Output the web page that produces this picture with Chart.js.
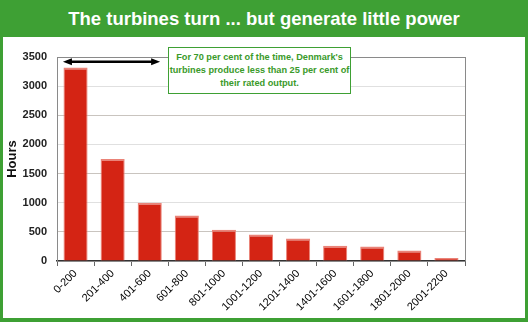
<!DOCTYPE html>
<html>
<head>
<meta charset="utf-8">
<script src="https://cdn.jsdelivr.net/npm/chart.js@4.4.1/dist/chart.umd.min.js"></script>
<style>
  html, body { margin: 0; padding: 0; }
  body { width: 528px; height: 322px; overflow: hidden; font-family: "Liberation Sans", Arial, sans-serif; }
  #frame { position: relative; width: 528px; height: 322px; background: #3ea034; }
  #heading {
    position: absolute; left: 0; top: 0; width: 528px; height: 37px;
    line-height: 37px; text-align: center; color: #fff;
    font-weight: bold; font-size: 18.5px;
  }
  #panel { position: absolute; left: 3px; top: 37px; width: 522px; height: 281px; background: #fff; }
  #note {
    position: absolute; left: 165px; top: 10px; width: 183px; height: 47px;
    border: 1px solid #3ea034; background: #fff; color: #3a9a2a;
    font-weight: bold; font-size: 9.2px; line-height: 12.8px; text-align: center;
    white-space: nowrap; box-sizing: border-box; padding-top: 3px;
  }
</style>
</head>
<body>
<div id="frame">
  <div id="heading">The turbines turn ... but generate little power</div>
  <div id="panel">
    <canvas id="hoursChart" width="522" height="281"></canvas>
    <div id="note">For 70 per cent of the time, Denmark's<br>turbines produce less than 25 per cent of<br>their rated output.</div>
  </div>
</div>
<script>
// output bands (kW) and hours spent in each band
const bands = ['0-200', '201-400', '401-600', '601-800', '801-1000', '1001-1200',
  '1201-1400', '1401-1600', '1601-1800', '1801-2000', '2001-2200'];
const hours = [3320, 1750, 1000, 780, 535, 455, 385, 260, 250, 180, 50];
const yTicks = [0, 500, 1000, 1500, 2000, 2500, 3000, 3500];

// arrow spanning the low-output bands (category index units)
const arrowFrom = -0.34;
const arrowTo = 2.28;
const arrowAt = 3420;

const font = '"Liberation Sans", Arial, sans-serif';

const extras = {
  id: 'extras',
  afterDraw(chart) {
    const { ctx, chartArea, scales } = chart;
    // right-hand frame line
    ctx.save();
    ctx.strokeStyle = '#8a8a8a';
    ctx.lineWidth = 1;
    ctx.beginPath();
    ctx.moveTo(Math.round(chartArea.right) + 0.5, chartArea.top);
    ctx.lineTo(Math.round(chartArea.right) + 0.5, chartArea.bottom);
    ctx.stroke();

    // double-headed arrow
    const x1 = scales.x.getPixelForValue(arrowFrom);
    const x2 = scales.x.getPixelForValue(arrowTo);
    const y = scales.y.getPixelForValue(arrowAt);
    ctx.strokeStyle = '#000';
    ctx.fillStyle = '#000';
    ctx.lineWidth = 2.5;
    ctx.beginPath();
    ctx.moveTo(x1 + 4, y);
    ctx.lineTo(x2 - 4, y);
    ctx.stroke();
    [[x1, 1], [x2, -1]].forEach(([x, d]) => {
      ctx.beginPath();
      ctx.moveTo(x, y);
      ctx.lineTo(x + d * 9, y - 3.5);
      ctx.lineTo(x + d * 9, y + 3.5);
      ctx.closePath();
      ctx.fill();
    });
    ctx.restore();
  }
};

new Chart(document.getElementById('hoursChart'), {
  type: 'bar',
  data: {
    labels: bands,
    datasets: [{
      data: hours,
      backgroundColor: '#d42414',
      borderColor: '#ea8378',
      borderWidth: { top: 2, left: 1, right: 1, bottom: 0 },
      borderSkipped: 'bottom',
      barPercentage: 0.65,
      categoryPercentage: 1
    }]
  },
  options: {
    responsive: false,
    animation: false,
    layout: { padding: { top: 20, right: 60, left: 0, bottom: 0 } },
    plugins: {
      legend: { display: false },
      tooltip: { enabled: false }
    },
    scales: {
      x: {
        afterFit(scale) { scale.height = 57; },
        grid: {
          drawOnChartArea: false,
          drawTicks: true,
          tickLength: 5,
          color: '#666',
          offset: true
        },
        border: { color: '#333', width: 1.5 },
        ticks: {
          minRotation: 45,
          maxRotation: 45,
          autoSkip: false,
          padding: 1,
          color: '#000',
          font: { family: font, size: 11 }
        }
      },
      y: {
        min: 0,
        max: 3500,
        afterFit(scale) { scale.width = 54; },
        afterBuildTicks(scale) { scale.ticks = yTicks.map(v => ({ value: v })); },
        grid: {
          drawTicks: false,
          color: c => c.tick.value === 3500 ? '#8a8a8a'
            : (c.tick.value % 1000 === 500 ? '#c9c4bf' : '#e0e0e0')
        },
        border: { color: '#8a8a8a' },
        ticks: {
          padding: 10,
          color: '#222',
          callback: v => String(v),
          font: { family: font, size: 11, weight: 'bold' }
        },
        title: {
          display: true,
          text: 'Hours',
          color: '#111',
          padding: { top: 2, bottom: 0 },
          font: { family: font, size: 13, weight: 'bold' }
        }
      }
    }
  },
  plugins: [extras]
});
</script>
</body>
</html>
